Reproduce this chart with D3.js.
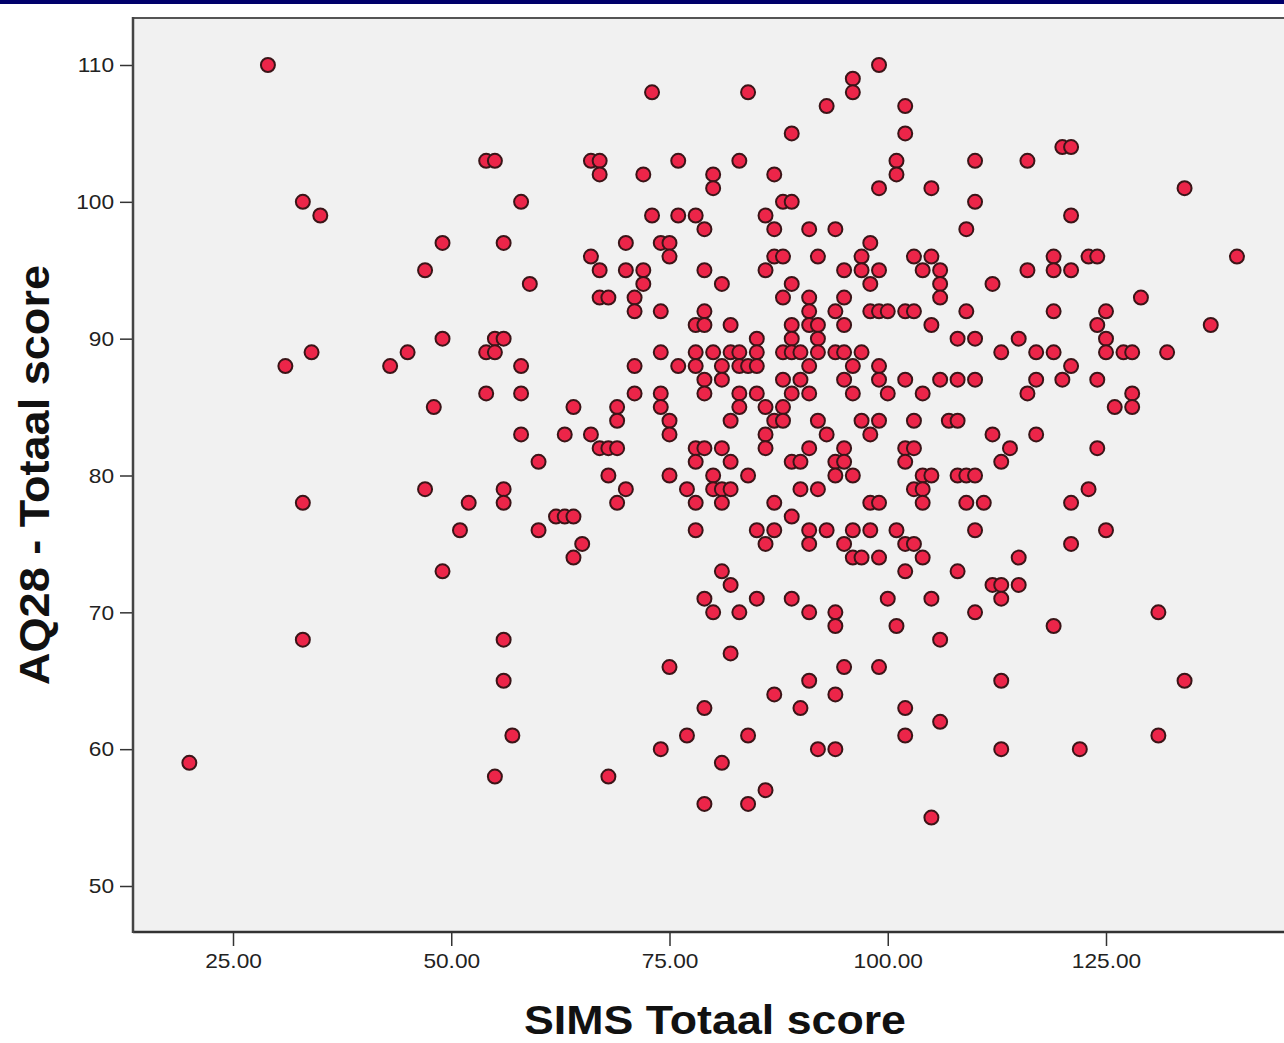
<!DOCTYPE html>
<html><head><meta charset="utf-8">
<script src="https://cdn.jsdelivr.net/npm/d3@7"></script>
<style>html,body{margin:0;padding:0;background:#fff;overflow:hidden}svg{display:block}</style>
</head><body><svg id="c" width="1284" height="1043"></svg>
<script>
const xTicks=[25,50,75,100,125];
const yTicks=[50,60,70,80,90,100,110];
const xTitle="SIMS Totaal score";
const yTitle="AQ28 - Totaal score";
const aqLevels=[110,109,108,107,105,104,103,102,101,100,99,98,97,96,95,94,93,92,91,90,89,88,87,86,85,84,83,82,81,80,79,78,77,76,75,74,73,72,71,70,69,68,67,66,65,64,63,62,61,60,59,58,57,56,55];
const simsAtLevel=[
[29,99],[96],[73,84,96],[93,102],[89,102],[120,121],
[54,55,66,67,76,83,101,110,116],[67,72,80,87,101],[80,99,105,134],[33,58,88,89,110],
[35,73,76,78,86,121],[79,87,91,94,109],[49,56,70,74,75,98],
[66,75,87,88,92,97,103,105,119,123,124,140],
[47,67,70,72,79,86,95,97,99,104,106,116,119,121],
[59,72,81,89,98,106,112],[67,68,71,88,91,95,106,129],
[71,74,79,91,94,98,99,100,102,103,109,119,125],
[78,79,82,89,91,92,95,105,124,137],
[49,55,56,85,89,92,108,110,115,125],
[34,45,54,55,74,78,80,82,83,85,88,89,90,92,94,95,97,113,117,119,125,127,128,132],
[31,43,58,71,76,78,81,83,84,85,91,96,99,121],
[79,81,88,90,95,99,102,106,108,110,117,120,124],
[54,58,71,74,79,83,85,89,91,96,100,104,116,128],
[48,64,69,74,83,86,88,126,128],
[69,75,82,87,88,92,97,99,103,107,108],
[58,63,66,75,86,93,98,112,117],
[67,68,69,78,79,81,86,91,95,102,103,114,124],
[60,78,82,89,90,94,95,102,113],
[68,75,80,84,94,96,104,105,108,109,110],
[47,56,70,77,80,81,82,90,92,103,104,123],
[33,52,56,69,78,81,87,98,99,104,109,111,121],
[62,63,64,89],[51,60,78,85,87,91,93,96,98,101,110,125],
[65,86,91,95,102,103,121],[64,96,97,99,104,115],[49,81,102,108],
[82,112,113,115],[79,85,89,100,105,113],[80,83,91,94,110,131],[94,101,119],[33,56,106],[82],
[75,95,99],[56,91,113,134],[87,94],[79,90,102],[106],[57,77,84,102,131],[74,92,94,113,122],
[20,81],[55,68],[86],[79,84],[105]
];
const points=aqLevels.flatMap((aq,i)=>simsAtLevel[i].map(s=>({s,aq})));

const svg=d3.select("#c");
const x=d3.scaleLinear().domain([25,125]).range([233,1106]);
const y=d3.scaleLinear().domain([50,110]).range([886,65]);
const panelL=133,panelT=18,panelB=932,W=1284;

svg.append("rect").attr("x",0).attr("y",0).attr("width",W).attr("height",4).attr("fill","#00006b");
svg.append("rect").attr("x",panelL).attr("y",panelT).attr("width",W-panelL).attr("height",panelB-panelT).attr("fill","#f1f1f1");
svg.append("line").attr("x1",panelL).attr("x2",W).attr("y1",panelT).attr("y2",panelT).attr("stroke","#555").attr("stroke-width",2);

const font="'Liberation Sans',Arial,sans-serif";
const gx=svg.append("g").attr("transform",`translate(0,${panelB})`)
  .call(d3.axisBottom(x).tickValues(xTicks).tickFormat(d3.format(".2f")).tickSize(14).tickPadding(7));
const gy=svg.append("g").attr("transform",`translate(${panelL},0)`)
  .call(d3.axisLeft(y).tickValues(yTicks).tickFormat(d3.format("d")).tickSize(13).tickPadding(6));
[gx,gy].forEach(g=>{
  g.select(".domain").remove();
  g.selectAll("line").attr("stroke","#333").attr("stroke-width",1.5);
  g.selectAll("text").attr("font-family",font).attr("font-size",21).attr("fill","#222")
    .attr("textLength",function(){return this.getComputedTextLength()*1.08;})
    .attr("lengthAdjust","spacingAndGlyphs");
});
svg.append("line").attr("x1",panelL).attr("x2",W).attr("y1",panelB).attr("y2",panelB).attr("stroke","#333").attr("stroke-width",2.5);
svg.append("line").attr("x1",panelL).attr("x2",panelL).attr("y1",panelT-1).attr("y2",panelB+1).attr("stroke","#444").attr("stroke-width",2.5);

svg.append("g").selectAll("circle").data(points).join("circle")
  .attr("cx",d=>x(d.s)).attr("cy",d=>y(d.aq)).attr("r",7)
  .attr("fill","#ec2549").attr("stroke","#3a1518").attr("stroke-width",2);

svg.append("text").attr("x",715).attr("y",1034).attr("text-anchor","middle")
  .attr("font-family",font).attr("font-weight","bold").attr("font-size",41).attr("fill","#111")
  .attr("textLength",382).attr("lengthAdjust","spacingAndGlyphs").text(xTitle);
svg.append("text").attr("transform","translate(49,475) rotate(-90)").attr("text-anchor","middle")
  .attr("font-family",font).attr("font-weight","bold").attr("font-size",42).attr("fill","#111")
  .attr("textLength",420).attr("lengthAdjust","spacingAndGlyphs").text(yTitle);
</script></body></html>
